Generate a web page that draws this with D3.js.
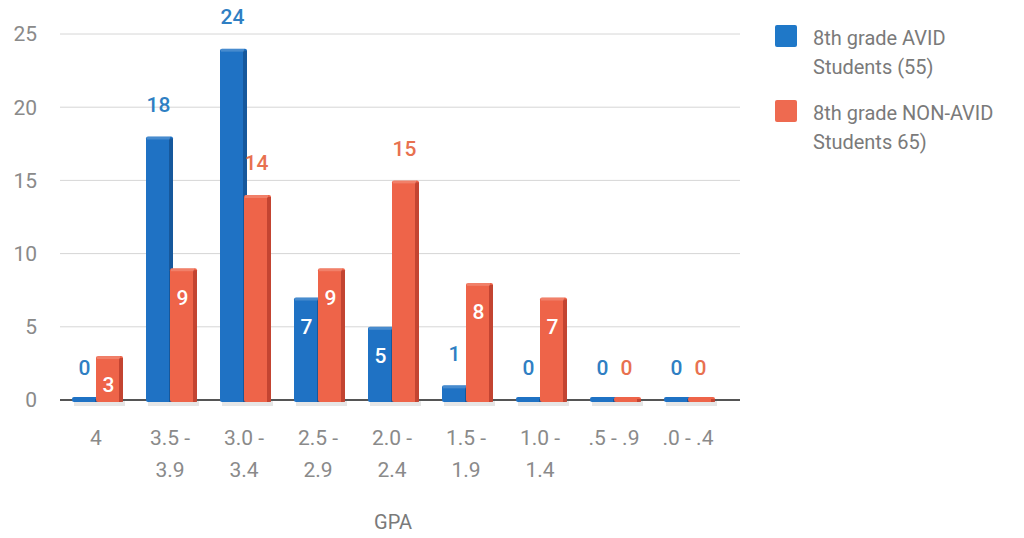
<!DOCTYPE html>
<html>
<head>
<meta charset="utf-8">
<script src="https://cdn.jsdelivr.net/npm/d3@7"></script>
<style>
  body { margin: 0; background: #fff; }
  svg { font-family: Roboto, "Noto Sans", sans-serif; }
</style>
</head>
<body>
<svg id="chart" width="1024" height="538"></svg>
<script>
const categories = [["4"], ["3.5 -", "3.9"], ["3.0 -", "3.4"], ["2.5 -", "2.9"], ["2.0 -", "2.4"], ["1.5 -", "1.9"], ["1.0 -", "1.4"], [".5 - .9"], [".0 - .4"]];
const avid = [0, 18, 24, 7, 5, 1, 0, 0, 0];
const nonAvid = [3, 9, 14, 9, 15, 8, 7, 0, 0];
const seriesNames = [["8th grade AVID", "Students (55)"], ["8th grade NON-AVID", "Students 65)"]];
const yTicks = [0, 5, 10, 15, 20, 25];

const svg = d3.select("#chart");
const colors = ["#1f72c4", "#ee6449"];
const sideColors = ["#14508f", "#b43a2a"];
const labelColors = ["#2f7fc3", "#e8714f"];

const x = d3.scaleBand().domain(d3.range(categories.length)).range([56, 722]).paddingInner(0.3).paddingOuter(0.15);
const y = d3.scaleLinear().domain([0, 25]).range([400, 34]);

// gridlines
svg.append("g")
  .selectAll("line")
  .data(yTicks)
  .join("line")
  .attr("x1", 60).attr("x2", 740)
  .attr("y1", d => y(d)).attr("y2", d => y(d))
  .attr("stroke", d => d === 0 ? "#555" : "#d6d6d6")
  .attr("stroke-width", d => d === 0 ? 2 : 1);

// y tick labels
svg.append("g")
  .selectAll("text")
  .data(yTicks)
  .join("text")
  .attr("x", 37).attr("y", d => y(d))
  .attr("dy", "0.35em")
  .attr("text-anchor", "end")
  .attr("font-size", 21)
  .attr("fill", "#8a8a8a")
  .text(d => d);

const bw = 27;
const data = [];
categories.forEach((c, i) => {
  data.push({ i, s: 0, v: avid[i] });
  data.push({ i, s: 1, v: nonAvid[i] });
});

function barX(d) {
  const c = x(d.i) + x.bandwidth() / 2 + 4;
  return d.s === 0 ? c - bw + 2 : c - 1;
}

const bars = svg.append("g").selectAll("g").data(data).join("g");

// floor shadow
bars.append("rect")
  .attr("x", d => barX(d) + 2)
  .attr("y", 401)
  .attr("width", bw)
  .attr("height", 5)
  .attr("fill", "#e6e6e6");

bars.append("rect")
  .attr("x", d => barX(d))
  .attr("y", d => Math.min(y(d.v), 397))
  .attr("width", bw)
  .attr("height", d => Math.max(400 - y(d.v), 3) + 2)
  .attr("rx", 2)
  .attr("fill", d => colors[d.s]);

// darker right side for 3D look
bars.append("rect")
  .attr("x", d => barX(d) + bw - 4)
  .attr("y", d => Math.min(y(d.v), 397) + 2)
  .attr("width", 4)
  .attr("height", d => Math.max(400 - y(d.v), 3))
  .attr("fill", d => sideColors[d.s])
  .attr("opacity", 0.75);

// top highlight
bars.filter(d => d.v > 0).append("rect")
  .attr("x", d => barX(d) + 1)
  .attr("y", d => y(d.v))
  .attr("width", bw - 4)
  .attr("height", 3)
  .attr("fill", "#fff")
  .attr("opacity", 0.18);

// value labels
bars.append("text")
  .attr("x", d => barX(d) + bw / 2 - 1)
  .attr("y", d => (d.v >= 3 && d.v <= 9) ? y(d.v) + 29 : y(d.v) - 32)
  .attr("dy", "0.35em")
  .attr("text-anchor", "middle")
  .attr("font-size", 21)
  .attr("font-weight", 500)
  .attr("fill", d => (d.v >= 3 && d.v <= 9) ? "#fff" : labelColors[d.s])
  .text(d => d.v);

// x labels
const xl = svg.append("g").selectAll("text").data(categories).join("text")
  .attr("x", (d, i) => x(i) + x.bandwidth() / 2 + 3)
  .attr("y", 438)
  .attr("dy", "0.35em")
  .attr("text-anchor", "middle")
  .attr("font-size", 21)
  .attr("fill", "#8a8a8a");
xl.selectAll("tspan").data(d => d).join("tspan")
  .attr("x", function () { return d3.select(this.parentNode).attr("x"); })
  .attr("dy", (d, j) => j === 0 ? "0.35em" : 32)
  .text(d => d);

svg.append("text")
  .attr("x", 393).attr("y", 522)
  .attr("dy", "0.35em")
  .attr("text-anchor", "middle")
  .attr("font-size", 20)
  .attr("fill", "#7a7a7a")
  .text("GPA");

// legend
const lg = svg.append("g").selectAll("g").data(seriesNames).join("g")
  .attr("transform", (d, i) => `translate(775, ${25 + i * 75})`);
lg.append("rect")
  .attr("width", 22).attr("height", 22).attr("rx", 2)
  .attr("fill", (d, i) => ["#1f78c8", "#ee6a50"][i]);
lg.append("text")
  .attr("font-size", 20)
  .attr("fill", "#7a7a7a")
  .selectAll("tspan").data(d => d).join("tspan")
  .attr("x", 38)
  .attr("y", (d, j) => 13 + j * 29)
  .attr("dy", "0.35em")
  .text(d => d);
</script>
</body>
</html>
